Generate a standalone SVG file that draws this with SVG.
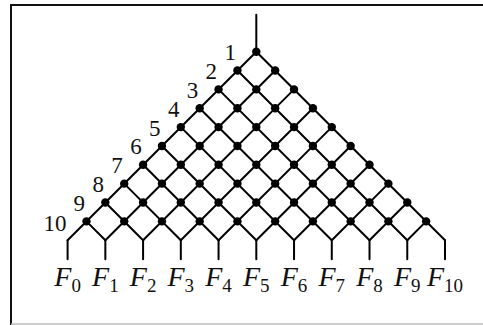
<svg xmlns="http://www.w3.org/2000/svg" width="483" height="325" viewBox="0 0 483 325">
<style>
.e{stroke:#000;stroke-width:2;stroke-linecap:round;fill:none}
.n{fill:#000}
.num{font-family:"Liberation Serif",serif;font-size:23px;text-anchor:end;fill:#111}
.f{font-family:"Liberation Serif",serif;font-size:28px;font-style:italic;text-anchor:middle;fill:#111}
.s{font-style:normal;font-size:19px}
</style>
<rect width="483" height="325" fill="#fff"/>
<g id="frame">
<line x1="10" y1="5" x2="483" y2="5" stroke="#111" stroke-width="2"/>
<line x1="11" y1="4" x2="11" y2="325" stroke="#111" stroke-width="2"/>
<line x1="11" y1="324" x2="483" y2="324" stroke="#bbb" stroke-width="1.5"/>
</g>
<g id="connectors" class="e">
<line x1="256.3" y1="14.7" x2="256.3" y2="51.7"/>
<line x1="256.3" y1="51.7" x2="67.6" y2="240.2"/>
<line x1="275.17" y1="70.55" x2="105.34" y2="240.2"/>
<line x1="294.04" y1="89.4" x2="143.08" y2="240.2"/>
<line x1="312.91" y1="108.25" x2="180.82" y2="240.2"/>
<line x1="331.78" y1="127.1" x2="218.56" y2="240.2"/>
<line x1="350.65" y1="145.95" x2="256.3" y2="240.2"/>
<line x1="369.52" y1="164.8" x2="294.04" y2="240.2"/>
<line x1="388.39" y1="183.65" x2="331.78" y2="240.2"/>
<line x1="407.26" y1="202.5" x2="369.52" y2="240.2"/>
<line x1="426.13" y1="221.35" x2="407.26" y2="240.2"/>
<line x1="256.3" y1="51.7" x2="445" y2="240.2"/>
<line x1="237.43" y1="70.55" x2="407.26" y2="240.2"/>
<line x1="218.56" y1="89.4" x2="369.52" y2="240.2"/>
<line x1="199.69" y1="108.25" x2="331.78" y2="240.2"/>
<line x1="180.82" y1="127.1" x2="294.04" y2="240.2"/>
<line x1="161.95" y1="145.95" x2="256.3" y2="240.2"/>
<line x1="143.08" y1="164.8" x2="218.56" y2="240.2"/>
<line x1="124.21" y1="183.65" x2="180.82" y2="240.2"/>
<line x1="105.34" y1="202.5" x2="143.08" y2="240.2"/>
<line x1="86.47" y1="221.35" x2="105.34" y2="240.2"/>
<line x1="67.6" y1="240.2" x2="67.6" y2="259.3"/>
<line x1="105.34" y1="240.2" x2="105.34" y2="259.3"/>
<line x1="143.08" y1="240.2" x2="143.08" y2="259.3"/>
<line x1="180.82" y1="240.2" x2="180.82" y2="259.3"/>
<line x1="218.56" y1="240.2" x2="218.56" y2="259.3"/>
<line x1="256.3" y1="240.2" x2="256.3" y2="259.3"/>
<line x1="294.04" y1="240.2" x2="294.04" y2="259.3"/>
<line x1="331.78" y1="240.2" x2="331.78" y2="259.3"/>
<line x1="369.52" y1="240.2" x2="369.52" y2="259.3"/>
<line x1="407.26" y1="240.2" x2="407.26" y2="259.3"/>
<line x1="445" y1="240.2" x2="445" y2="259.3"/>
</g>
<g id="nodes" class="n">
<g id="r1"><circle cx="256.3" cy="51.7" r="4.2"/></g>
<g id="r2"><circle cx="237.43" cy="70.55" r="4.2"/><circle cx="275.17" cy="70.55" r="4.2"/></g>
<g id="r3"><circle cx="218.56" cy="89.4" r="4.2"/><circle cx="256.3" cy="89.4" r="4.2"/><circle cx="294.04" cy="89.4" r="4.2"/></g>
<g id="r4"><circle cx="199.69" cy="108.25" r="4.2"/><circle cx="237.43" cy="108.25" r="4.2"/><circle cx="275.17" cy="108.25" r="4.2"/><circle cx="312.91" cy="108.25" r="4.2"/></g>
<g id="r5"><circle cx="180.82" cy="127.1" r="4.2"/><circle cx="218.56" cy="127.1" r="4.2"/><circle cx="256.3" cy="127.1" r="4.2"/><circle cx="294.04" cy="127.1" r="4.2"/><circle cx="331.78" cy="127.1" r="4.2"/></g>
<g id="r6"><circle cx="161.95" cy="145.95" r="4.2"/><circle cx="199.69" cy="145.95" r="4.2"/><circle cx="237.43" cy="145.95" r="4.2"/><circle cx="275.17" cy="145.95" r="4.2"/><circle cx="312.91" cy="145.95" r="4.2"/><circle cx="350.65" cy="145.95" r="4.2"/></g>
<g id="r7"><circle cx="143.08" cy="164.8" r="4.2"/><circle cx="180.82" cy="164.8" r="4.2"/><circle cx="218.56" cy="164.8" r="4.2"/><circle cx="256.3" cy="164.8" r="4.2"/><circle cx="294.04" cy="164.8" r="4.2"/><circle cx="331.78" cy="164.8" r="4.2"/><circle cx="369.52" cy="164.8" r="4.2"/></g>
<g id="r8"><circle cx="124.21" cy="183.65" r="4.2"/><circle cx="161.95" cy="183.65" r="4.2"/><circle cx="199.69" cy="183.65" r="4.2"/><circle cx="237.43" cy="183.65" r="4.2"/><circle cx="275.17" cy="183.65" r="4.2"/><circle cx="312.91" cy="183.65" r="4.2"/><circle cx="350.65" cy="183.65" r="4.2"/><circle cx="388.39" cy="183.65" r="4.2"/></g>
<g id="r9"><circle cx="105.34" cy="202.5" r="4.2"/><circle cx="143.08" cy="202.5" r="4.2"/><circle cx="180.82" cy="202.5" r="4.2"/><circle cx="218.56" cy="202.5" r="4.2"/><circle cx="256.3" cy="202.5" r="4.2"/><circle cx="294.04" cy="202.5" r="4.2"/><circle cx="331.78" cy="202.5" r="4.2"/><circle cx="369.52" cy="202.5" r="4.2"/><circle cx="407.26" cy="202.5" r="4.2"/></g>
<g id="r10"><circle cx="86.47" cy="221.35" r="4.2"/><circle cx="124.21" cy="221.35" r="4.2"/><circle cx="161.95" cy="221.35" r="4.2"/><circle cx="199.69" cy="221.35" r="4.2"/><circle cx="237.43" cy="221.35" r="4.2"/><circle cx="275.17" cy="221.35" r="4.2"/><circle cx="312.91" cy="221.35" r="4.2"/><circle cx="350.65" cy="221.35" r="4.2"/><circle cx="388.39" cy="221.35" r="4.2"/><circle cx="426.13" cy="221.35" r="4.2"/></g>
</g>
<g id="row-labels" class="num">
<text x="236" y="60">1</text>
<text x="217.1" y="79">2</text>
<text x="198.3" y="97.9">3</text>
<text x="179.4" y="116.7">4</text>
<text x="160.5" y="135.6">5</text>
<text x="141.7" y="154.4">6</text>
<text x="122.8" y="173.3">7</text>
<text x="103.9" y="192.1">8</text>
<text x="85.1" y="211">9</text>
<text x="66.5" y="230.5">10</text>
</g>
<g id="outputs" class="f">
<text x="67.6" y="285.5">F<tspan class="s" dy="6">0</tspan></text>
<text x="105.34" y="285.5">F<tspan class="s" dy="6">1</tspan></text>
<text x="143.08" y="285.5">F<tspan class="s" dy="6">2</tspan></text>
<text x="180.82" y="285.5">F<tspan class="s" dy="6">3</tspan></text>
<text x="218.56" y="285.5">F<tspan class="s" dy="6">4</tspan></text>
<text x="256.3" y="285.5">F<tspan class="s" dy="6">5</tspan></text>
<text x="294.04" y="285.5">F<tspan class="s" dy="6">6</tspan></text>
<text x="331.78" y="285.5">F<tspan class="s" dy="6">7</tspan></text>
<text x="369.52" y="285.5">F<tspan class="s" dy="6">8</tspan></text>
<text x="407.26" y="285.5">F<tspan class="s" dy="6">9</tspan></text>
<text x="445" y="285.5">F<tspan class="s" dy="6">10</tspan></text>
</g>
</svg>
